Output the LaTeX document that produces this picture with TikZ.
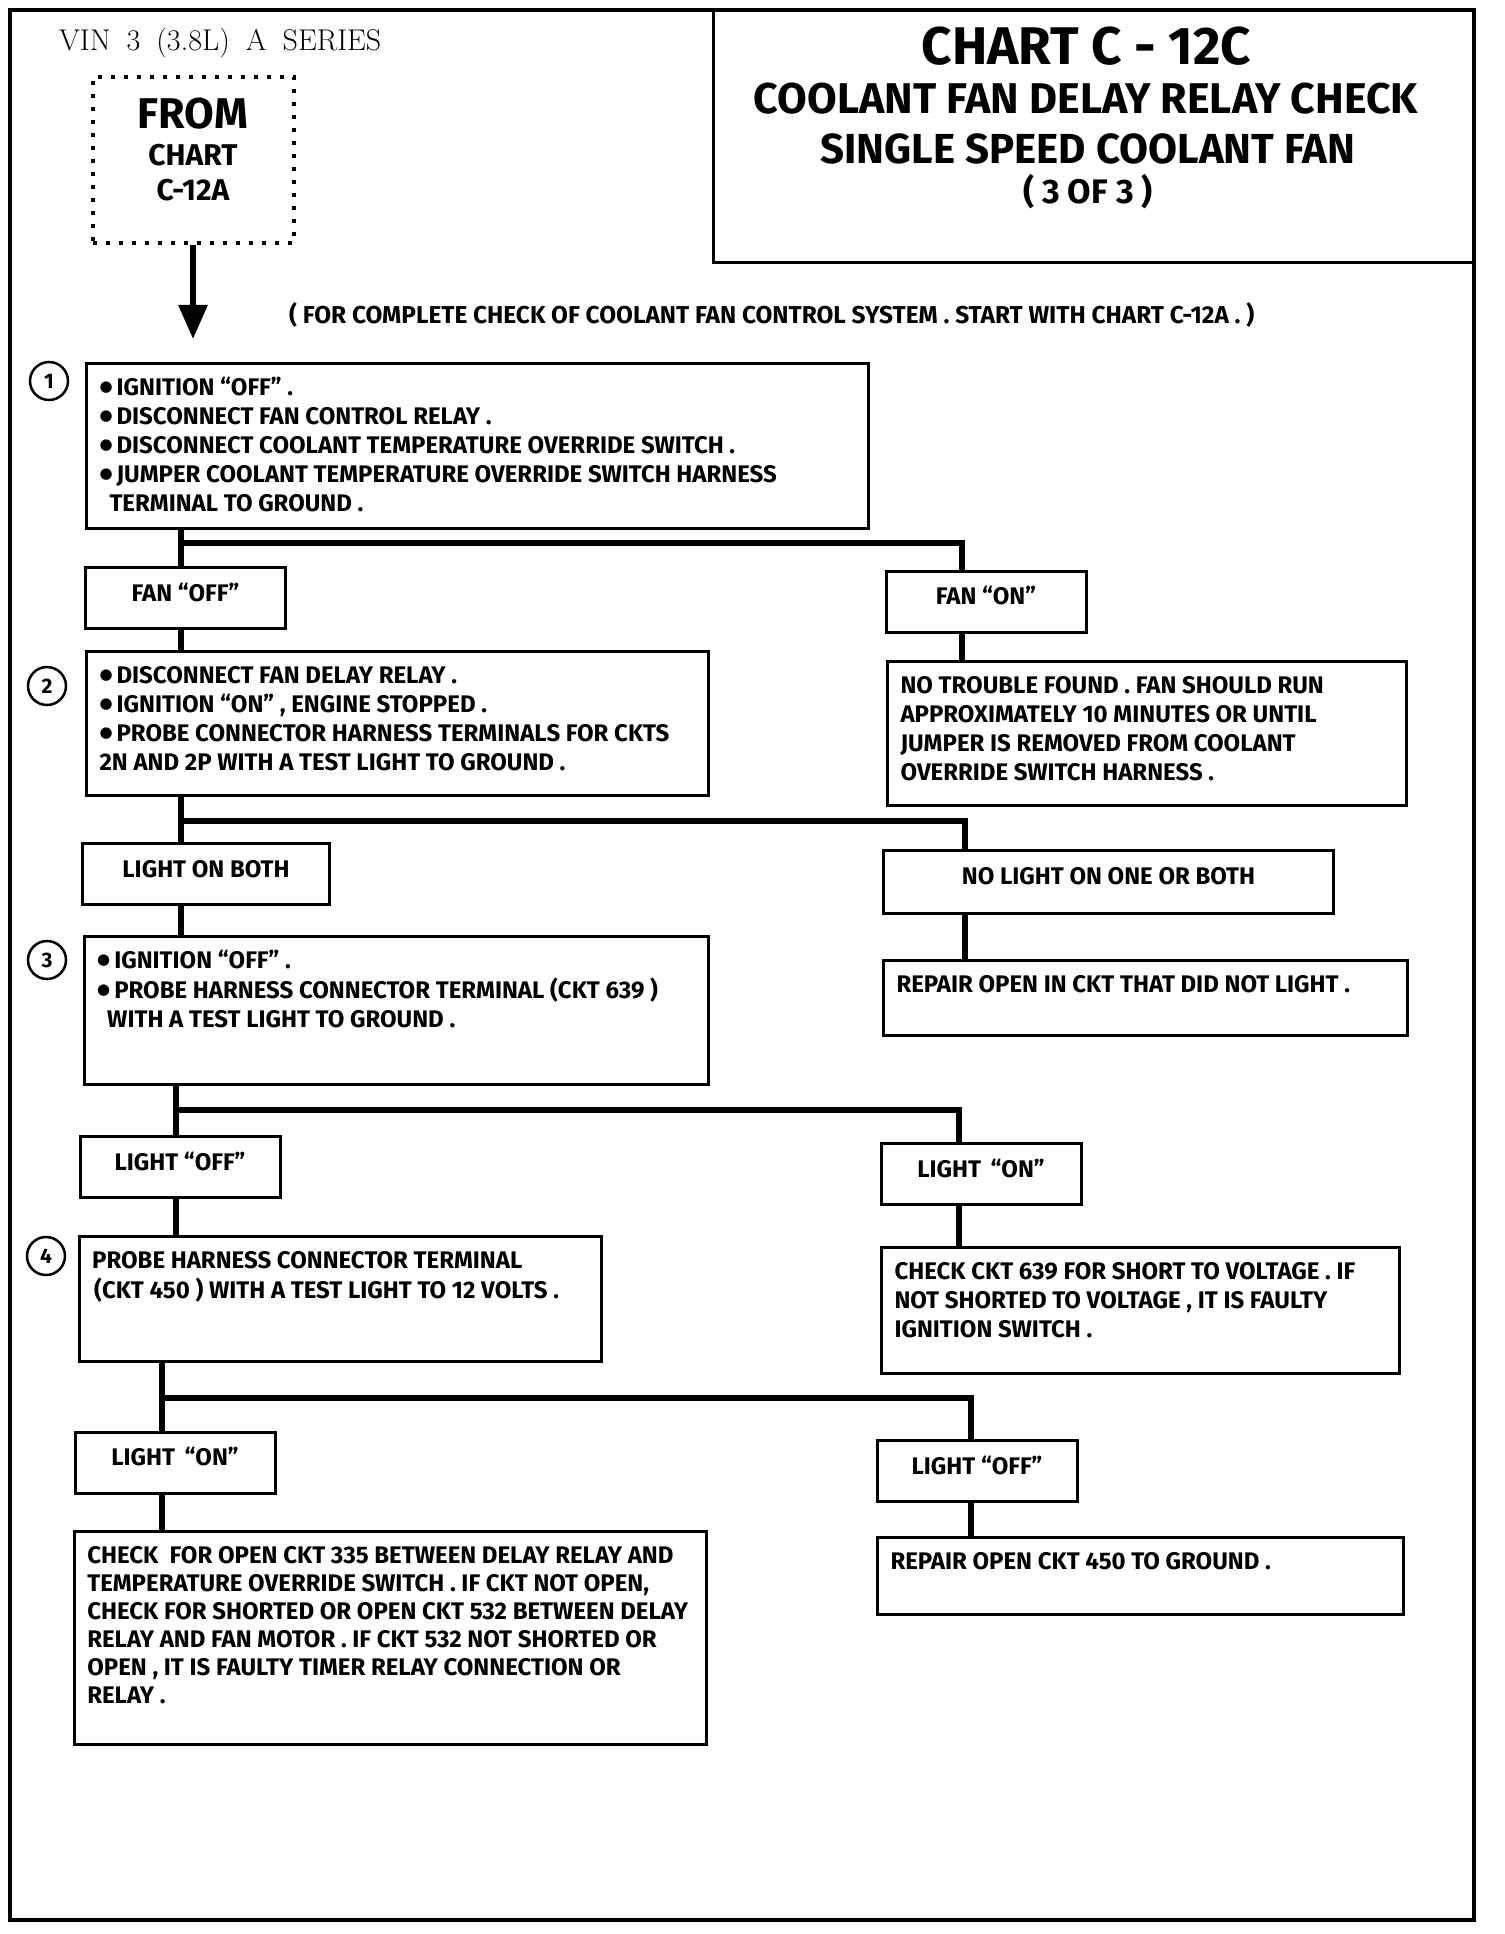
\documentclass[tikz,border=0pt]{standalone}
\usepackage{fontspec}
\usetikzlibrary{arrows.meta}
\newfontfamily\chartfont{Fira Sans}
\newfontfamily\symfont{DejaVu Sans}
% box text: fixed box size, lines set from the top left
\newcommand{\steptext}[3]{\parbox[c][#2][t]{#1}{\vspace*{12pt}\begin{tabular}[t]{@{\hspace{13pt}}l@{}}#3\end{tabular}}}
\newcommand{\bul}{\raisebox{4pt}{\symfont\fontsize{15}{18}\selectfont ●}\,}
\tikzset{
  body/.style={font=\chartfont\bfseries\fontsize{24}{29}\selectfont},
  stepbox/.style={draw, line width=3pt, inner sep=0pt, anchor=north west, body},
  answer/.style={draw, line width=3pt, minimum width=200pt, minimum height=61pt, inner sep=0pt, text height=16pt, text depth=10pt, body},
  num/.style={draw, circle, line width=2.5pt, minimum size=38pt, inner sep=0pt, font=\chartfont\bfseries\fontsize{21}{24}\selectfont},
  conn/.style={line width=6pt},
}
\begin{document}
\begin{tikzpicture}[x=1pt, y=-1pt]
\useasboundingbox (0,0) rectangle (1504,1934);
% Page frame and title block
\draw[line width=3.5pt] (10,10) rectangle (1474,1920);
\draw[line width=3pt] (713,10) rectangle (1474,263);
\node[font=\chartfont\bfseries\fontsize{53}{58}\selectfont] (chart) at (1086,46) {CHART C - 12C};
\node[font=\chartfont\bfseries\fontsize{43}{48}\selectfont] (name) at (1086,99) {COOLANT FAN DELAY RELAY CHECK};
\node[font=\chartfont\bfseries\fontsize{42}{48}\selectfont] (speed) at (1088,149) {SINGLE SPEED COOLANT FAN};
\node[font=\chartfont\bfseries\fontsize{34}{40}\selectfont] (part) at (1088,192) {( 3 OF 3 )};
\node[anchor=west, inner sep=0pt, font=\fontsize{30}{34}\selectfont] (vin) at (59,43) {\spaceskip=16pt plus 2pt\relax VIN 3 (3.8L) A SERIES};
% Entry from chart C-12A
\node[draw, line width=4pt, dash pattern=on 4pt off 9pt, minimum width=201pt, minimum height=166pt] (from) at (193,160) {};
\node[font=\chartfont\bfseries\fontsize{43}{48}\selectfont] (fromA) at (193,113.5) {FROM};
\node[font=\chartfont\bfseries\fontsize{30}{34}\selectfont] (fromB) at (193,155.5) {CHART};
\node[font=\chartfont\bfseries\fontsize{30}{34}\selectfont] (fromC) at (193,190) {C-12A};
\coordinate (entry) at (193,339);
\draw[line width=6pt, -{Triangle[width=28pt, length=34pt]}] (from.south) -- (entry);
\node[anchor=west, inner sep=0pt, font=\chartfont\bfseries\fontsize{24.4}{29}\selectfont] (note) at (289,315) {( FOR COMPLETE CHECK OF COOLANT FAN CONTROL SYSTEM . START WITH CHART C-12A . )};
% Step numbers
\node[num] (c1) at (49,381) {1};
\node[num] (c2) at (47,686) {2};
\node[num] (c3) at (47,960) {3};
\node[num] (c4) at (46,1256) {4};
% Step 1
\node[stepbox] (s1) at (85,361.5) {\steptext{782pt}{165pt}{%
\bul IGNITION “OFF” .\\
\bul DISCONNECT FAN CONTROL RELAY .\\
\bul DISCONNECT COOLANT TEMPERATURE OVERRIDE SWITCH .\\
\bul JUMPER COOLANT TEMPERATURE OVERRIDE SWITCH HARNESS\\
\hspace*{10pt}TERMINAL TO GROUND .}};
\node[answer] (fanoff) at (185.5,598) {FAN “OFF”};
\node[answer] (fanon) at (986,601.5) {FAN “ON”};
% Step 2
\node[stepbox] (s2) at (85,650) {\steptext{622pt}{144pt}{%
\bul DISCONNECT FAN DELAY RELAY .\\
\bul IGNITION “ON” , ENGINE STOPPED .\\
\bul PROBE CONNECTOR HARNESS TERMINALS FOR CKTS\\
2N AND 2P WITH A TEST LIGHT TO GROUND .}};
\node[stepbox] (ntf) at (886,660) {\steptext{519pt}{144pt}{%
NO TROUBLE FOUND . FAN SHOULD RUN\\
APPROXIMATELY 10 MINUTES OR UNTIL\\
JUMPER IS REMOVED FROM COOLANT\\
OVERRIDE SWITCH HARNESS .}};
\node[answer, minimum width=247pt] (lightboth) at (206,874) {LIGHT ON BOTH};
\node[answer, minimum width=450pt, minimum height=63pt] (nolight) at (1108.5,881.5) {NO LIGHT ON ONE OR BOTH};
\node[stepbox] (repair1) at (882,958.7) {\steptext{524pt}{75pt}{REPAIR OPEN IN CKT THAT DID NOT LIGHT .}};
% Step 3
\node[stepbox] (s3) at (82.7,935) {\steptext{624pt}{148pt}{%
\bul IGNITION “OFF” .\\
\bul PROBE HARNESS CONNECTOR TERMINAL (CKT 639 )\\
\hspace*{10pt}WITH A TEST LIGHT TO GROUND .}};
\node[answer] (loff3) at (180,1167) {LIGHT “OFF”};
\node[answer] (lon3) at (981,1174) {LIGHT \,“ON”};
% Step 4
\node[stepbox] (s4) at (77.7,1235) {\steptext{522pt}{125pt}{%
PROBE HARNESS CONNECTOR TERMINAL\\
\hspace*{2pt}(CKT 450 ) WITH A TEST LIGHT TO 12 VOLTS .}};
\node[stepbox] (chk639) at (880,1246) {\steptext{518pt}{126pt}{%
CHECK CKT 639 FOR SHORT TO VOLTAGE . IF\\
NOT SHORTED TO VOLTAGE , IT IS FAULTY\\
IGNITION SWITCH .}};
\node[answer] (lon4) at (175,1462.5) {LIGHT \,“ON”};
\node[answer] (loff4) at (977,1471) {LIGHT “OFF”};
\node[stepbox, font=\chartfont\bfseries\fontsize{24}{28}\selectfont] (chk335) at (72.8,1530) {\steptext{632pt}{213pt}{%
CHECK\ \ FOR OPEN CKT 335 BETWEEN DELAY RELAY AND\\
TEMPERATURE OVERRIDE SWITCH . IF CKT NOT OPEN,\\
CHECK FOR SHORTED OR OPEN CKT 532 BETWEEN DELAY\\
RELAY AND FAN MOTOR . IF CKT 532 NOT SHORTED OR\\
OPEN , IT IS FAULTY TIMER RELAY CONNECTION OR\\
RELAY .}};
\node[stepbox] (repair450) at (876,1536) {\steptext{526pt}{77pt}{REPAIR OPEN CKT 450 TO GROUND .}};
% Connectors
\coordinate (j1) at (181,543); \coordinate (r1) at (962,543);
\draw[conn] (s1.south -| j1) -- (fanoff.north -| j1);
\draw[conn] (j1) -- (r1) -- (fanon.north -| r1);
\draw[conn] (fanoff.south -| j1) -- (s2.north -| j1);
\draw[conn] (fanon.south -| r1) -- (ntf.north -| r1);
\coordinate (j2) at (181,820.5); \coordinate (r2) at (965,820.5);
\draw[conn] (s2.south -| j2) -- (lightboth.north -| j2);
\draw[conn] (j2) -- (r2) -- (nolight.north -| r2);
\draw[conn] (lightboth.south -| j2) -- (s3.north -| j2);
\draw[conn] (nolight.south -| r2) -- (repair1.north -| r2);
\coordinate (j3) at (176,1110); \coordinate (r3) at (959,1110);
\draw[conn] (s3.south -| j3) -- (loff3.north -| j3);
\draw[conn] (j3) -- (r3) -- (lon3.north -| r3);
\draw[conn] (loff3.south -| j3) -- (s4.north -| j3);
\draw[conn] (lon3.south -| r3) -- (chk639.north -| r3);
\coordinate (j4) at (162,1398); \coordinate (r4) at (971,1398);
\draw[conn] (s4.south -| j4) -- (lon4.north -| j4);
\draw[conn] (j4) -- (r4) -- (loff4.north -| r4);
\draw[conn] (lon4.south -| j4) -- (chk335.north -| j4);
\draw[conn] (loff4.south -| r4) -- (repair450.north -| r4);
\end{tikzpicture}
\end{document}
